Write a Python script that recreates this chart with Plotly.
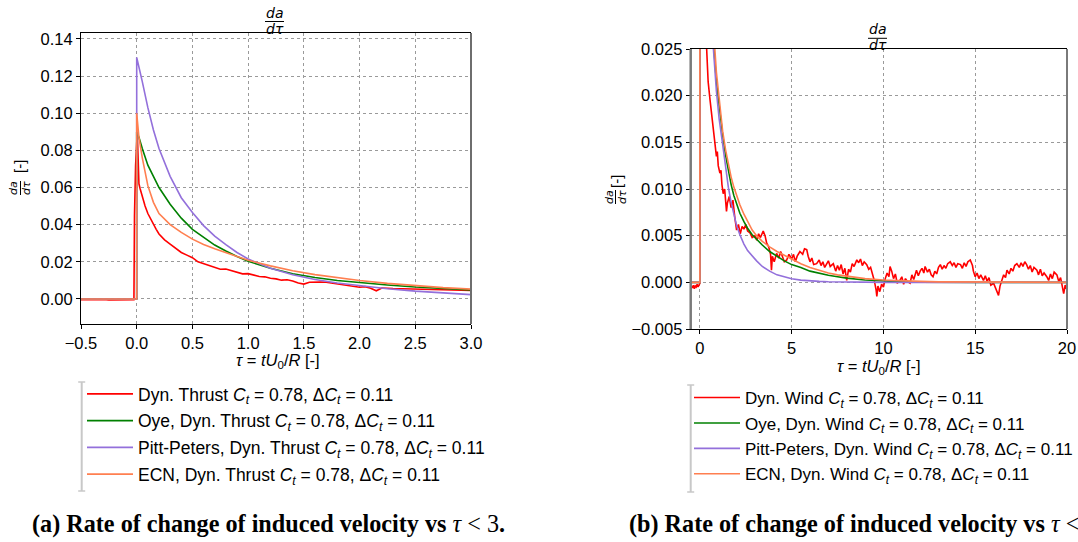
import plotly.graph_objects as go

W, H = 1078, 542

# ---------------- data: (a) Dyn. Thrust, tau < 3 ----------------
thrust_red_x = [-0.5, -0.45, -0.4, -0.35, -0.3, -0.25, -0.2, -0.15, -0.1, -0.05, -0.025, -0.02, -0.01,
                0.005, 0.02, 0.03, 0.05, 0.075, 0.1, 0.125, 0.15, 0.175, 0.2,
                0.25, 0.3, 0.35, 0.4, 0.45, 0.5, 0.55, 0.6, 0.65, 0.7, 0.75, 0.8, 0.85, 0.9, 0.95, 1.0,
                1.05, 1.1, 1.15, 1.2, 1.25, 1.3, 1.35, 1.4, 1.45, 1.5, 1.55, 1.6, 1.65, 1.7, 1.75, 1.8,
                1.85, 1.9, 1.95, 2.0, 2.05, 2.1, 2.15, 2.2, 2.3, 2.4, 2.5, 2.6, 2.7, 2.8, 2.9, 3.0]
thrust_red_y = [-0.0004, -0.0003, -0.0005, -0.0004, -0.0003, -0.0005, -0.0004, -0.0003, -0.0004, -0.0003, -0.0004, 0.045, 0.072,
                0.090, 0.062, 0.0595, 0.055, 0.050, 0.046, 0.043, 0.040, 0.0375, 0.035,
                0.0318, 0.0295, 0.0272, 0.0250, 0.0236, 0.0222, 0.0200, 0.0190, 0.0182, 0.0172, 0.0160, 0.0161, 0.0151, 0.0144, 0.0135, 0.0136,
                0.0129, 0.0121, 0.0119, 0.0111, 0.0108, 0.0101, 0.0103, 0.0097, 0.0086, 0.0080, 0.0090, 0.0092, 0.0091, 0.0090, 0.0086, 0.0083,
                0.0079, 0.0073, 0.0069, 0.0063, 0.0066, 0.0058, 0.0044, 0.0059, 0.0056, 0.0055, 0.0053, 0.0052, 0.0050, 0.0050, 0.0048, 0.0045]

thrust_model_x = [-0.5, 0.0, 0.0, 0.02, 0.05, 0.1, 0.15, 0.2, 0.3, 0.4, 0.5, 0.6, 0.7, 0.8, 0.9, 1.0,
                  1.2, 1.4, 1.6, 1.8, 2.0, 2.25, 2.5, 2.75, 3.0]
thrust_oye_y = [0.0, 0.0, 0.090, 0.087, 0.081, 0.072, 0.066, 0.060, 0.051, 0.0435, 0.0375, 0.0330, 0.0290, 0.0258, 0.0228, 0.0203,
                0.0165, 0.0136, 0.0115, 0.0099, 0.0087, 0.0075, 0.0064, 0.0056, 0.0049]
thrust_pp_y = [0.0, 0.0, 0.130, 0.125, 0.117, 0.103, 0.091, 0.081, 0.066, 0.0545, 0.0465, 0.0395, 0.0338, 0.0292, 0.0250, 0.0215,
               0.0165, 0.0130, 0.0105, 0.0086, 0.0072, 0.0055, 0.0042, 0.0031, 0.0023]
thrust_ecn_y = [0.0, 0.0, 0.100, 0.087, 0.076, 0.061, 0.052, 0.046, 0.0400, 0.0358, 0.0322, 0.0293, 0.0270, 0.0248, 0.0228, 0.0208,
                0.0178, 0.0152, 0.0131, 0.0114, 0.0099, 0.0084, 0.0071, 0.0061, 0.0053]

# ---------------- data: (b) Dyn. Wind, tau < 20 ----------------
wind_red_x = [-0.5, -0.45, -0.4, -0.35, -0.3, -0.25, -0.2, -0.15, -0.1, -0.05, 0.0,
              0.01, 0.1, 0.2, 0.3, 0.36, 0.45, 0.55, 0.65, 0.75, 0.82, 0.9, 0.95, 1.0, 1.09, 1.15, 1.2, 1.27, 1.35,
              1.45, 1.5, 1.6, 1.7, 1.8, 1.9, 2.0, 2.1, 2.2, 2.3, 2.4, 2.5, 2.6, 2.73, 2.85, 3.0, 3.1, 3.2, 3.3,
              3.45, 3.55, 3.64, 3.75, 3.85, 3.9, 3.95, 4.05, 4.18, 4.3, 4.4, 4.5, 4.6, 4.73, 4.85, 5.0, 5.1, 5.2,
              5.3, 5.45, 5.6, 5.7, 5.82, 5.9, 6.0, 6.1, 6.2, 6.36, 6.5, 6.6, 6.7, 6.8, 6.9, 7.0, 7.1, 7.27, 7.4,
              7.5, 7.6, 7.7, 7.8, 7.9, 8.0, 8.1, 8.2, 8.3, 8.4, 8.55, 8.65, 8.75, 8.85, 8.95, 9.09, 9.2, 9.3, 9.4,
              9.5, 9.6, 9.64, 9.7, 9.8, 9.9, 10.0, 10.1, 10.2, 10.3, 10.36, 10.45, 10.55, 10.65, 10.75, 10.9, 11.0,
              11.1, 11.2, 11.3, 11.45, 11.55, 11.65, 11.8, 11.9, 12.0, 12.1, 12.2, 12.27, 12.4, 12.5, 12.6, 12.7,
              12.8, 12.9, 13.0, 13.1, 13.2, 13.3, 13.4, 13.5, 13.64, 13.75, 13.85, 13.95, 14.05, 14.2, 14.3, 14.4,
              14.5, 14.6, 14.73, 14.85, 14.9, 15.0, 15.1, 15.2, 15.3, 15.45, 15.55, 15.65, 15.75, 15.85, 16.0, 16.1,
              16.2, 16.27, 16.35, 16.45, 16.55, 16.65, 16.73, 16.85, 16.95, 17.05, 17.15, 17.27, 17.4, 17.5, 17.6,
              17.7, 17.8, 17.9, 18.0, 18.1, 18.2, 18.36, 18.45, 18.55, 18.65, 18.75, 18.9, 19.0, 19.1, 19.2, 19.3,
              19.45, 19.55, 19.65, 19.75, 19.82, 19.9, 20.0]
wind_red_y = [-0.0008, -0.0004, -0.0006, -0.0003, -0.0007, -0.0004, -0.0005, -0.0002, -0.0005, -0.0003, -0.0001,
              0.060, 0.045, 0.035, 0.028, 0.025, 0.0215, 0.0196, 0.0180, 0.0158, 0.0149, 0.0135, 0.0140, 0.0125, 0.0117, 0.0120, 0.0105, 0.0095, 0.0100,
              0.0076, 0.0085, 0.0092, 0.0080, 0.0088, 0.0070, 0.0056, 0.0062, 0.0052, 0.0060, 0.0057, 0.0062, 0.0055, 0.0053, 0.0048, 0.0050, 0.0045, 0.0052, 0.0048,
              0.0055, 0.0050, 0.0042, 0.0038, 0.0030, 0.0013, 0.0028, 0.0022, 0.0031, 0.0026, 0.0033, 0.0028, 0.0022, 0.0024, 0.0030, 0.0025, 0.0030, 0.0022,
              0.0028, 0.0033, 0.0030, 0.0036, 0.0035, 0.0028, 0.0022, 0.0026, 0.0019, 0.0020, 0.0024, 0.0018, 0.0022, 0.0016, 0.0020, 0.0023, 0.0017, 0.0020, 0.0012,
              0.0018, 0.0013, 0.0019, 0.0009, 0.0015, 0.0002, 0.0014, 0.0011, 0.0020, 0.0017, 0.0024, 0.0021, 0.0025, 0.0018, 0.0022, 0.0019, 0.0014, 0.0016, 0.0009,
              0.0002, -0.0008, -0.0015, -0.0004, -0.0010, -0.0002, -0.0005, 0.0004, 0.0010, 0.0006, 0.0017, 0.0012, 0.0004, 0.0009, -0.0001, 0.0002, 0.0006,
              -0.0002, 0.0004, 0.0001, -0.0001, 0.0008, 0.0003, 0.0013, 0.0007, 0.0012, 0.0015, 0.0010, 0.0017, 0.0011, 0.0014, 0.0008, 0.0006,
              0.0012, 0.0009, 0.0016, 0.0019, 0.0014, 0.0018, 0.0015, 0.0020, 0.0022, 0.0018, 0.0021, 0.0016, 0.0020, 0.0019, 0.0015, 0.0021,
              0.0017, 0.0022, 0.0024, 0.0018, 0.0012, 0.0006, 0.0010, 0.0004, 0.0008, 0.0002, 0.0007, 0.0001, 0.0005, -0.0003, -0.0001, -0.0006,
              -0.0010, -0.0014, -0.0004, 0.0003, 0.0008, 0.0005, 0.0013, 0.0009, 0.0015, 0.0012, 0.0018, 0.0020, 0.0016, 0.0021, 0.0017,
              0.0022, 0.0019, 0.0014, 0.0018, 0.0011, 0.0016, 0.0013, 0.0008, 0.0014, 0.0007, 0.0010, 0.0006, 0.0002, 0.0009, 0.0004, 0.0011,
              0.0008, 0.0001, 0.0005, -0.0004, -0.0012, -0.0003, -0.0008]

wind_model_x = [-0.5, 0.0, 0.0, 0.1, 0.25, 0.4, 0.55, 0.73, 0.9, 1.05, 1.24, 1.4, 1.55, 1.7, 1.85, 2.0, 2.18, 2.4,
                2.6, 2.85, 3.09, 3.4, 3.8, 4.2, 4.6, 5.0, 5.5, 6.0, 6.5, 7.0, 7.5, 8.0, 9.0, 10.0, 11.0, 12.0,
                13.0, 15.0, 20.0]
wind_oye_y = [0.0, 0.0, 0.090, 0.075, 0.058, 0.044, 0.034, 0.026, 0.0215, 0.0188, 0.0158, 0.0136, 0.0119, 0.0105, 0.0093, 0.0084, 0.0074, 0.0065,
              0.0058, 0.0051, 0.0046, 0.0040, 0.0033, 0.0028, 0.0023, 0.0019, 0.0016, 0.0012, 0.00095, 0.00075, 0.0006, 0.00045, 0.00025, 0.00012, 0.00005, 0.00002,
              0.0, 0.0, 0.0]
wind_pp_y = [0.0, 0.0, 0.130, 0.100, 0.068, 0.047, 0.034, 0.0252, 0.0205, 0.0175, 0.0148, 0.0122, 0.0102, 0.0086, 0.0072, 0.0061, 0.0051, 0.0041,
             0.0034, 0.0028, 0.0023, 0.0017, 0.0012, 0.0008, 0.00055, 0.00038, 0.00024, 0.00015, 0.0001, 0.00006, 0.00004, 0.00002, 0.0, 0.0, 0.0, 0.0,
             0.0, 0.0, 0.0]
wind_ecn_y = [0.0, 0.0, 0.100, 0.078, 0.058, 0.045, 0.036, 0.0275, 0.0225, 0.0195, 0.0162, 0.0142, 0.0126, 0.0113, 0.0102, 0.0093, 0.0083, 0.0073,
              0.0065, 0.0056, 0.0050, 0.0044, 0.0038, 0.0033, 0.0029, 0.0025, 0.0020, 0.0016, 0.0013, 0.0010, 0.0008, 0.00065, 0.0004, 0.00025, 0.00015, 0.0001,
              0.00005, 0.00002, 0.0]

ct_txt = "<i>C</i><sub><i>t</i></sub> = 0.78, Δ<i>C</i><sub><i>t</i></sub> = 0.11"
thrust_names = ["Dyn. Thrust " + ct_txt, "Oye, Dyn. Thrust " + ct_txt,
                "Pitt-Peters, Dyn. Thrust " + ct_txt, "ECN, Dyn. Thrust " + ct_txt]
wind_names = ["Dyn. Wind " + ct_txt, "Oye, Dyn. Wind " + ct_txt,
              "Pitt-Peters, Dyn. Wind " + ct_txt, "ECN, Dyn. Wind " + ct_txt]
colors = ["#ff0000", "#008000", "#9370db", "#ff7f50"]

x_ticks_a = [-0.5, 0.0, 0.5, 1.0, 1.5, 2.0, 2.5, 3.0]
y_ticks_a = [0.00, 0.02, 0.04, 0.06, 0.08, 0.10, 0.12, 0.14]
x_ticks_b = [0, 5, 10, 15, 20]
y_ticks_b = [-0.005, 0.000, 0.005, 0.010, 0.015, 0.020, 0.025]

captions = ["<b>(a) Rate of change of induced velocity vs </b><i>τ</i> &lt; 3<b>.</b>",
            "<b>(b) Rate of change of induced velocity vs </b><i>τ</i> &lt; 20<b>.</b>"]

# ---------------- figure ----------------
def px(x):
    return x / W


def py(y):
    return 1 - y / H


fig = go.Figure()
series_a = [(thrust_red_x, thrust_red_y), (thrust_model_x, thrust_oye_y),
            (thrust_model_x, thrust_pp_y), (thrust_model_x, thrust_ecn_y)]
series_b = [(wind_red_x, wind_red_y), (wind_model_x, wind_oye_y),
            (wind_model_x, wind_pp_y), (wind_model_x, wind_ecn_y)]
for i, (xs, ys) in enumerate(series_a):
    fig.add_trace(go.Scatter(x=xs, y=ys, mode="lines", name=thrust_names[i],
                             line=dict(color=colors[i], width=1.6), xaxis="x", yaxis="y",
                             legend="legend", legendgroup="a%d" % i))
for i, (xs, ys) in enumerate(series_b):
    fig.add_trace(go.Scatter(x=xs, y=ys, mode="lines", name=wind_names[i],
                             line=dict(color=colors[i], width=1.6), xaxis="x2", yaxis="y2",
                             legend="legend2", legendgroup="b%d" % i))

sans = "Liberation Sans, Arial, sans-serif"
tickfont = dict(family=sans, size=16.5, color="black")
common = dict(showgrid=True, gridcolor="#9a9a9a", griddash="dot", gridwidth=1,
              zeroline=False, ticks="outside", ticklen=4, tickwidth=1, tickcolor="black",
              showline=True, linecolor="black", linewidth=1, tickfont=tickfont, automargin=False)

fig.update_layout(
    width=W, height=H, margin=dict(l=0, r=0, t=0, b=0, autoexpand=False),
    paper_bgcolor="white", plot_bgcolor="white",
    xaxis=dict(domain=[px(81), px(471)], range=[-0.5, 3.0], tickvals=x_ticks_a,
               tickformat=".1f", anchor="y", mirror=True, **common),
    yaxis=dict(domain=[py(324), py(33)], range=[-0.0135, 0.1432], tickvals=y_ticks_a,
               tickformat=".2f", anchor="x", **common),
    xaxis2=dict(domain=[px(690.7), px(1067)], range=[-0.5, 20], tickvals=x_ticks_b,
                tickformat="d", anchor="y2", mirror=True, **common),
    yaxis2=dict(domain=[py(329), py(49)], range=[-0.005, 0.025], tickvals=y_ticks_b,
                tickformat=".3f", anchor="x2", **common),
    legend=dict(x=px(82), y=py(376), xanchor="left", yanchor="top", bgcolor="rgba(0,0,0,0)",
                font=dict(family=sans, size=17.5, color="black"),
                tracegroupgap=1.0, itemwidth=46),
    legend2=dict(x=px(689), y=py(380), xanchor="left", yanchor="top", bgcolor="rgba(0,0,0,0)",
                 font=dict(family=sans, size=17, color="black"),
                 tracegroupgap=0.3, itemwidth=46),
    showlegend=True,
)

shapes = []
# side spines drawn grey, as in the reference
shapes.append(dict(type="line", xref="x domain", yref="y domain", x0=1, x1=1, y0=0, y1=1,
                   line=dict(color="#6e6e6e", width=2)))
shapes.append(dict(type="line", xref="x2 domain", yref="y2 domain", x0=1, x1=1, y0=0, y1=1,
                   line=dict(color="#7a7a7a", width=2)))
shapes.append(dict(type="line", xref="x2 domain", yref="y2 domain", x0=0, x1=0, y0=0, y1=1,
                   line=dict(color="#7a7a7a", width=2.5)))
# legend side bars
for (bx, btop, bbot) in [(81.7, 382, 491), (690.7, 385, 492)]:
    shapes.append(dict(type="line", xref="paper", yref="paper", x0=px(bx), x1=px(bx),
                       y0=py(btop), y1=py(bbot), line=dict(color="#c8c8c8", width=2)))
    for yy in (btop, bbot):
        shapes.append(dict(type="line", xref="paper", yref="paper", x0=px(bx - 3.5), x1=px(bx + 3.5),
                           y0=py(yy), y1=py(yy), line=dict(color="#c8c8c8", width=1.5)))
# fraction bars of titles and y labels
shapes.append(dict(type="line", xref="paper", yref="paper", x0=px(265), x1=px(284), y0=py(21.5), y1=py(21.5),
                   line=dict(color="black", width=1)))
shapes.append(dict(type="line", xref="paper", yref="paper", x0=px(868), x1=px(887), y0=py(38.3), y1=py(38.3),
                   line=dict(color="black", width=1)))
shapes.append(dict(type="line", xref="paper", yref="paper", x0=px(20.5), x1=px(20.5), y0=py(181), y1=py(195),
                   line=dict(color="black", width=1)))
shapes.append(dict(type="line", xref="paper", yref="paper", x0=px(615.5), x1=px(615.5), y0=py(190), y1=py(204),
                   line=dict(color="black", width=1)))
fig.update_layout(shapes=shapes)

math_font = "DejaVu Sans, sans-serif"
ann = []


def add_text(x, y, text, size, family, angle=0, xanchor="center"):
    ann.append(dict(x=px(x), y=py(y), xref="paper", yref="paper", text=text, showarrow=False,
                    xanchor=xanchor, yanchor="middle", textangle=angle,
                    font=dict(family=family, size=size, color="black")))


# titles (fractions)
add_text(274.5, 13, "<i>da</i>", 14, math_font)
add_text(274.5, 28.5, "<i>dτ</i>", 14, math_font)
add_text(877.5, 29.5, "<i>da</i>", 14, math_font)
add_text(877.5, 45, "<i>dτ</i>", 14, math_font)
# y labels
add_text(14, 188, "<i>da</i>", 11, math_font, angle=-90)
add_text(27, 188, "<i>dτ</i>", 11, math_font, angle=-90)
add_text(20, 167, "[-]", 15, sans, angle=-90)
add_text(609, 197, "<i>da</i>", 11, math_font, angle=-90)
add_text(622, 197, "<i>dτ</i>", 11, math_font, angle=-90)
add_text(616, 182, "[-]", 15, sans, angle=-90)
# x labels
xlab = "<i>τ</i> = <i>tU</i><sub>0</sub>/<i>R</i> [-]"
add_text(278, 361, xlab, 16.5, sans)
add_text(879, 367, xlab, 16.5, sans)
# captions (the second one runs past the right edge, as in the reference)
add_text(30, 524, captions[0], 24.2, "Liberation Serif, Times New Roman, serif", xanchor="left")
add_text(627, 524, captions[1], 24.2, "Liberation Serif, Times New Roman, serif", xanchor="left")
fig.update_layout(annotations=ann)

fig.write_html("out.html")
